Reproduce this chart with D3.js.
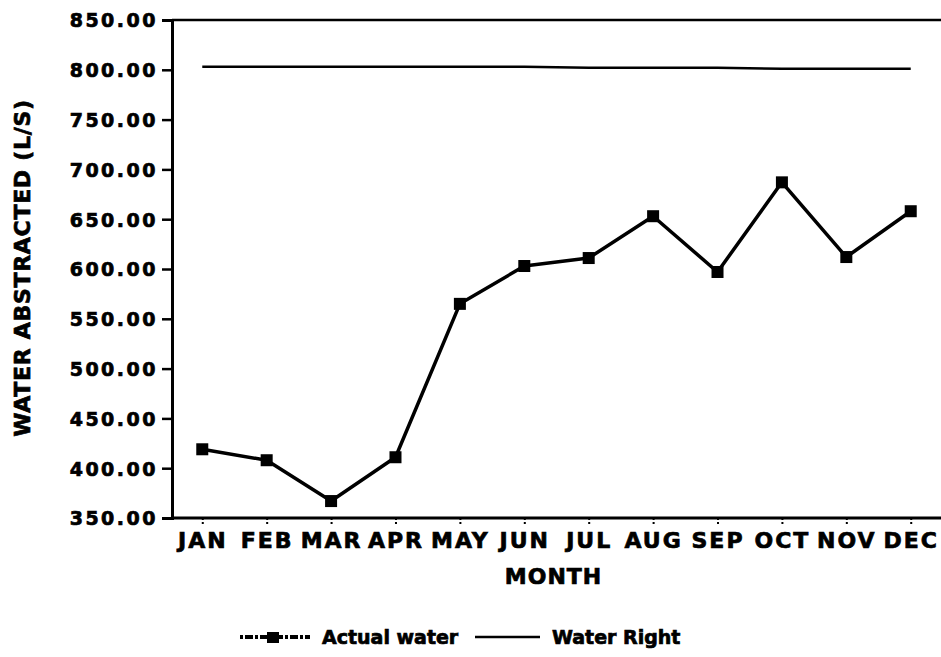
<!DOCTYPE html>
<html>
<head>
<meta charset="utf-8">
<script src="https://cdn.jsdelivr.net/npm/d3@7"></script>
<style>
  body { margin: 0; background: #fff; }
  text { font-family: "DejaVu Sans", sans-serif; font-weight: bold; fill: #000; stroke: #000; stroke-width: 0.7px; }
</style>
</head>
<body>
<svg id="chart"></svg>
<script>
const months = ['JAN','FEB','MAR','APR','MAY','JUN','JUL','AUG','SEP','OCT','NOV','DEC']
const actualWater = [419, 408, 367, 411, 565, 603, 611, 653, 597, 687, 612, 658]
const waterRight = [803, 803, 803, 803, 803, 803, 802, 802, 802, 801, 801, 801]
const yTicks = [350, 400, 450, 500, 550, 600, 650, 700, 750, 800, 850]

const width = 941, height = 657
const margin = { top: 20, right: 0, bottom: 139, left: 172 }

let svg = d3.select('#chart')
    .attr('width', width)
    .attr('height', height)

let x = d3.scalePoint()
    .domain(months)
    .range([margin.left, width - margin.right])
    .padding(0.47)

let y = d3.scaleLinear()
    .domain([350, 850])
    .range([height - margin.bottom, margin.top])

// frame: top line, left axis, bottom axis
svg.append('line')
    .attr('x1', margin.left).attr('x2', width)
    .attr('y1', y(850)).attr('y2', y(850))
    .attr('stroke', '#000').attr('stroke-width', 2.5)

let yAxis = svg.append('g')
    .attr('transform', 'translate(' + margin.left + ',0)')
    .call(d3.axisLeft(y).tickValues(yTicks).tickFormat(d3.format('.2f')).tickSize(10).tickPadding(4))
yAxis.select('.domain').attr('stroke-width', 3)
yAxis.selectAll('.tick line').attr('stroke-width', 2.5)
yAxis.selectAll('.tick text')
    .attr('font-size', 19)
    .attr('letter-spacing', 2.5)
    .attr('font-family', '"DejaVu Sans", sans-serif')
    .attr('font-weight', 'bold')
    .attr('dy', '0.36em')

let xAxis = svg.append('g')
    .attr('transform', 'translate(0,' + y(350) + ')')
    .call(d3.axisBottom(x).tickSize(6).tickPadding(8))
xAxis.select('.domain').attr('d', 'M' + margin.left + ',0H' + width).attr('stroke-width', 3)
xAxis.selectAll('.tick line').attr('stroke-width', 2).attr('stroke-dasharray', '2,2')
xAxis.selectAll('.tick text')
    .attr('font-size', 22)
    .attr('letter-spacing', 2)
    .attr('font-family', '"DejaVu Sans", sans-serif')
    .attr('font-weight', 'bold')

// axis titles
svg.append('text')
    .attr('x', (margin.left + width) / 2 - 3)
    .attr('y', 584)
    .attr('text-anchor', 'middle')
    .attr('font-size', 22)
    .attr('letter-spacing', 1)
    .text('MONTH')

svg.append('text')
    .attr('transform', 'translate(30,' + 268 + ') rotate(-90)')
    .attr('text-anchor', 'middle')
    .attr('font-size', 22)
    .attr('letter-spacing', 0.7)
    .text('WATER ABSTRACTED (L/S)')

// water right line
let line = d3.line()
    .x((d, i) => x(months[i]))
    .y(d => y(d))

svg.append('path')
    .datum(waterRight)
    .attr('d', line)
    .attr('fill', 'none')
    .attr('stroke', '#000')
    .attr('stroke-width', 2.5)

// actual water line + square markers
svg.append('path')
    .datum(actualWater)
    .attr('d', line)
    .attr('fill', 'none')
    .attr('stroke', '#000')
    .attr('stroke-width', 3.5)
    .attr('stroke-linejoin', 'round')

svg.selectAll('rect.marker')
    .data(actualWater)
    .enter().append('rect')
    .attr('class', 'marker')
    .attr('x', (d, i) => x(months[i]) - 6)
    .attr('y', d => y(d) - 6)
    .attr('width', 12)
    .attr('height', 12)
    .attr('fill', '#000')

// legend
let legend = svg.append('g')
legend.append('line')
    .attr('x1', 240).attr('x2', 310).attr('y1', 637).attr('y2', 637)
    .attr('stroke', '#000').attr('stroke-width', 4)
    .attr('stroke-dasharray', '3,2,8,2')
legend.append('rect')
    .attr('x', 267).attr('y', 632).attr('width', 12).attr('height', 11)
    .attr('fill', '#000')
legend.append('text')
    .attr('x', 322).attr('y', 644)
    .attr('font-size', 19)
    .text('Actual water')
legend.append('line')
    .attr('x1', 475).attr('x2', 540).attr('y1', 637).attr('y2', 637)
    .attr('stroke', '#000').attr('stroke-width', 2.5)
legend.append('text')
    .attr('x', 552).attr('y', 644)
    .attr('font-size', 19)
    .text('Water Right')
</script>
</body>
</html>
